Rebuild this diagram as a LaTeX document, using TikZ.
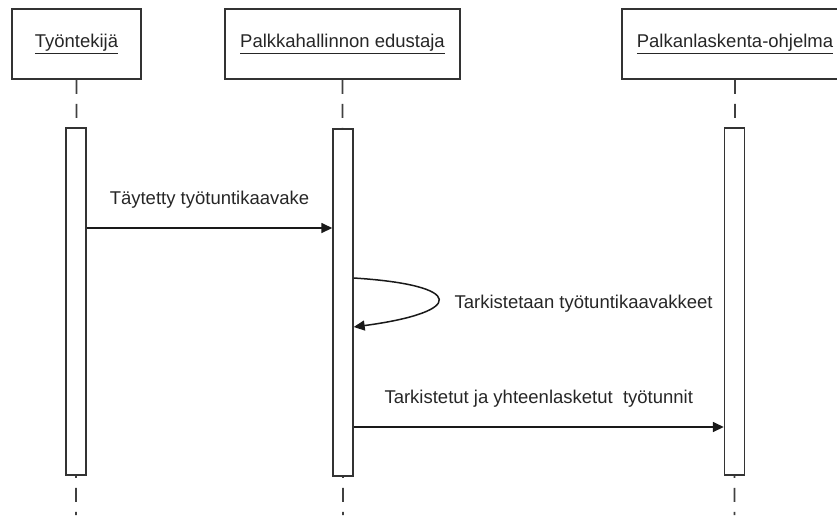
\documentclass[tikz,border=0pt]{standalone}
\usepackage{fontspec}
\setmainfont{Liberation Sans}
\usetikzlibrary{arrows.meta}
\begin{document}
\begin{tikzpicture}[x=1pt,y=-1pt,
        font=\fontsize{18.5}{22}\selectfont,
        kopf/.style={draw=black!80,line width=1.8pt,text=black!85,minimum height=70pt,inner sep=0pt},
        balken/.style={draw=black!80,line width=1.4pt,fill=white,minimum width=20pt,minimum height=347pt,inner sep=0pt},
        leben/.style={black!75,line width=1.8pt,dash pattern=on 14pt off 10pt},
        pfeil/.style={black!90,line width=1.5pt,-{Triangle[length=11pt,width=10pt]}},
        txt/.style={text=black!85}]
    \useasboundingbox (0,0) rectangle (837,515);
    \clip (0,0) rectangle (837,515);

    % Kopfzeilen
    \node[kopf,minimum width=129pt] (tyo) at (76.5,44) {\underline{Työntekijä}};
    \node[kopf,minimum width=235pt] (pal) at (342.5,44) {\underline{Palkkahallinnon edustaja}};
    \node[kopf,minimum width=226pt] (ohj) at (735,44) {\underline{Palkanlaskenta-ohjelma}};

    % Lebenslinien
    \coordinate (tyoE) at (76,515);
    \coordinate (palE) at (343,515);
    \coordinate (ohjE) at (734.5,515);
    \draw[leben] (tyo.south) -- (tyoE);
    \draw[leben] (pal.south) -- (palE);
    \draw[leben] (ohj.south) -- (ohjE);

    % Aktivierungen
    \node[balken] (tyoB) at (76,301.5) {};
    \node[balken] (palB) at (343,302.5) {};
    \node[balken] (ohjB) at (734.5,301.5) {};

    % Nachrichten
    \draw[pfeil] (tyoB.east |- 0,228) -- node[txt,above=16pt] (m1) {Täytetty työtuntikaavake} (palB.west |- 0,228);

    \coordinate (s1) at (palB.east |- 0,278);
    \coordinate (s2) at (palB.east |- 0,327);
    \draw[pfeil] (s1) .. controls (466,285) and (466,312) .. (s2);
    \node[txt,anchor=base west] (m2) at (451,308) {Tarkistetaan työtuntikaavakkeet};

    \draw[pfeil] (palB.east |- 0,427) -- node[txt,above=16pt] (m3) {Tarkistetut ja yhteenlasketut\ \ työtunnit} (ohjB.west |- 0,427);
\end{tikzpicture}
\end{document}
